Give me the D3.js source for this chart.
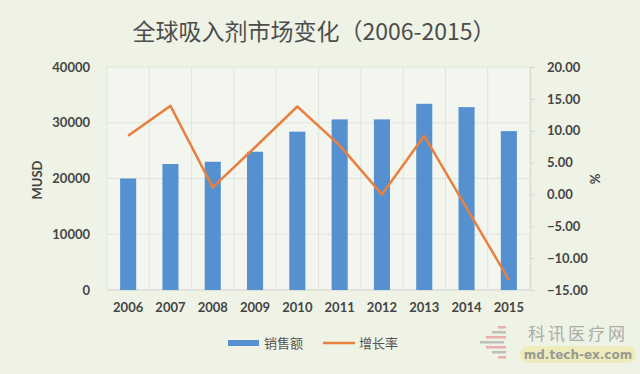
<!DOCTYPE html>
<html>
<head>
<meta charset="utf-8">
<script src="https://cdn.jsdelivr.net/npm/d3@7"></script>
<style>
  html, body { margin: 0; padding: 0; background: #eef3e6; }
  svg { display: block; }
</style>
</head>
<body>
<svg id="chart" width="640" height="374"></svg>
<script>
// chart values
const years = ["2006", "2007", "2008", "2009", "2010", "2011", "2012", "2013", "2014", "2015"];
const sales = [20000, 22600, 23000, 24800, 28400, 30600, 30600, 33400, 32800, 28500];
const growth = [9.2, 13.9, 1.1, 7.4, 13.8, 7.7, 0.0, 9.2, -2.1, -13.4];
const leftTicks = [0, 10000, 20000, 30000, 40000];
const rightTicks = [-15, -10, -5, 0, 5, 10, 15, 20];

const svg = d3.select("#chart");
const margin = { top: 67, right: 110, bottom: 84, left: 107 };
const width = 640 - margin.left - margin.right;
const height = 374 - margin.top - margin.bottom;

const latin = "Lato, 'Open Sans', sans-serif";
const cjk = "'Noto Sans CJK SC', sans-serif";
const textColor = "#454545";

// title
svg.append("text")
  .attr("x", 314)
  .attr("y", 40)
  .attr("text-anchor", "middle")
  .attr("fill", "#4d4d4d")
  .style("font-family", cjk)
  .style("font-size", "23px")
  .text("全球吸入剂市场变化（2006-2015）");

const g = svg.append("g").attr("transform", `translate(${margin.left},${margin.top})`);

const xScale = d3.scaleBand().domain(years).range([0, width]).paddingInner(0.62).paddingOuter(0.31);
const yLeft = d3.scaleLinear().domain([0, 40000]).range([height, 0]);
const yRight = d3.scaleLinear().domain([-15, 20]).range([height, 0]);

// plot area, slightly lighter than the page
g.append("rect")
  .attr("width", width)
  .attr("height", height)
  .attr("fill", "#f3f6ee");

// horizontal gridlines
g.selectAll(".hgrid")
  .data(leftTicks)
  .join("line")
  .attr("class", "hgrid")
  .attr("x1", 0)
  .attr("x2", width)
  .attr("y1", (d) => yLeft(d))
  .attr("y2", (d) => yLeft(d))
  .attr("stroke", (d) => (d === 0 ? "#cfd3cb" : "#e0e4dc"))
  .attr("stroke-width", 1);

// vertical gridlines at category boundaries
const step = xScale.step();
g.selectAll(".vgrid")
  .data(d3.range(years.length + 1))
  .join("line")
  .attr("class", "vgrid")
  .attr("x1", (i) => i * step)
  .attr("x2", (i) => i * step)
  .attr("y1", 0)
  .attr("y2", height)
  .attr("stroke", "#e0e4dc")
  .attr("stroke-width", 1);

// bars
g.selectAll(".bar")
  .data(years)
  .join("rect")
  .attr("class", "bar")
  .attr("x", (d) => xScale(d))
  .attr("width", xScale.bandwidth())
  .attr("y", (d, i) => yLeft(sales[i]))
  .attr("height", (d, i) => height - yLeft(sales[i]))
  .attr("fill", "#5591d0");

// growth line
const line = d3.line()
  .x((d, i) => xScale(years[i]) + xScale.bandwidth() / 2)
  .y((d) => yRight(d));

g.append("path")
  .datum(growth)
  .attr("d", line)
  .attr("fill", "none")
  .attr("stroke", "#e8803f")
  .attr("stroke-width", 2.5)
  .attr("stroke-linejoin", "round");

// left axis
const leftAxis = g.append("g")
  .call(d3.axisLeft(yLeft).tickValues(leftTicks).tickSize(0).tickPadding(17).tickFormat(d3.format("d")));
leftAxis.select(".domain").remove();
leftAxis.selectAll("text")
  .attr("fill", textColor)
  .style("font-family", latin)
  .style("font-weight", "bold")
  .style("font-size", "13px");

// right axis
const rightAxis = g.append("g")
  .attr("transform", `translate(${width},0)`)
  .call(d3.axisRight(yRight).tickValues(rightTicks).tickSize(5).tickPadding(12).tickFormat(d3.format(".2f")));
rightAxis.select(".domain").attr("stroke", "#d4d8cf");
rightAxis.selectAll(".tick line").attr("stroke", "#d4d8cf");
rightAxis.selectAll("text")
  .attr("fill", textColor)
  .style("font-family", latin)
  .style("font-weight", "bold")
  .style("font-size", "13px");

// bottom axis
const bottomAxis = g.append("g")
  .attr("transform", `translate(0,${height})`)
  .call(d3.axisBottom(xScale).tickSize(0).tickPadding(13));
bottomAxis.select(".domain").remove();
bottomAxis.selectAll("text")
  .attr("fill", textColor)
  .style("font-family", latin)
  .style("font-weight", "bold")
  .style("font-size", "13px");

// axis titles
svg.append("text")
  .attr("transform", "translate(42,180) rotate(-90)")
  .attr("text-anchor", "middle")
  .attr("fill", textColor)
  .style("font-family", latin)
  .style("font-weight", "bold")
  .style("font-size", "13px")
  .text("MUSD");

svg.append("text")
  .attr("transform", "translate(600,179) rotate(-90)")
  .attr("text-anchor", "middle")
  .attr("fill", textColor)
  .style("font-family", latin)
  .style("font-weight", "bold")
  .style("font-size", "13px")
  .text("%");

// legend
const legend = svg.append("g").attr("transform", "translate(228,343)");
legend.append("rect")
  .attr("x", 0).attr("y", -3)
  .attr("width", 31).attr("height", 6)
  .attr("fill", "#5591d0");
legend.append("text")
  .attr("x", 36).attr("y", 5)
  .attr("fill", "#555")
  .style("font-family", cjk)
  .style("font-size", "13px")
  .text("销售额");
legend.append("line")
  .attr("x1", 95).attr("x2", 127)
  .attr("y1", 0).attr("y2", 0)
  .attr("stroke", "#e8803f")
  .attr("stroke-width", 2.5);
legend.append("text")
  .attr("x", 131).attr("y", 5)
  .attr("fill", "#555")
  .style("font-family", cjk)
  .style("font-size", "13px")
  .text("增长率");

// watermark
const wm = svg.append("g").attr("opacity", 0.9);
const stripes = [[498, 326, 8], [492, 331, 14], [486, 336, 20], [480, 341, 24], [486, 346, 20], [492, 351, 14], [498, 356, 8]];
wm.selectAll(".stripe")
  .data(stripes)
  .join("rect")
  .attr("class", "stripe")
  .attr("x", (d) => d[0])
  .attr("y", (d) => d[1])
  .attr("width", (d) => d[2])
  .attr("height", 2.5)
  .attr("fill", (d, i) => (i % 2 ? "#b8bcb6" : "#eaa8a4"));
wm.append("text")
  .attr("x", 528).attr("y", 340)
  .attr("fill", "#a3a7a1")
  .style("font-family", cjk)
  .style("font-size", "17px")
  .style("letter-spacing", "3px")
  .text("科讯医疗网");
wm.append("rect")
  .attr("x", 520).attr("y", 346)
  .attr("width", 116).attr("height", 17)
  .attr("rx", 8.5)
  .attr("fill", "#eeebb8");
wm.append("text")
  .attr("x", 578).attr("y", 359)
  .attr("text-anchor", "middle")
  .attr("fill", "#8e918a")
  .style("font-family", "'DejaVu Sans', sans-serif")
  .style("font-weight", "bold")
  .style("font-size", "12px")
  .text("md.tech-ex.com");
</script>
</body>
</html>
